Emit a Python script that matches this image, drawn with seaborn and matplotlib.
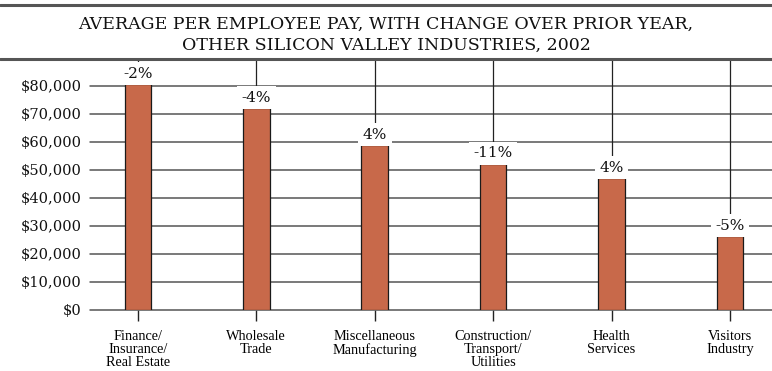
import matplotlib
matplotlib.use("Agg")
import matplotlib.pyplot as plt
import seaborn as sns
import pandas as pd
from matplotlib.lines import Line2D

categories = ["Finance/\nInsurance/\nReal Estate", "Wholesale\nTrade", "Miscellaneous\nManufacturing",
              "Construction/\nTransport/\nUtilities", "Health\nServices", "Visitors\nIndustry"]
pay = [80600, 72000, 58800, 52200, 46900, 26200]
change_labels = ["-2%", "-4%", "4%", "-11%", "4%", "-5%"]
ytick_values = [0, 10000, 20000, 30000, 40000, 50000, 60000, 70000, 80000]
ytick_labels = ["$0", "$10,000", "$20,000", "$30,000", "$40,000", "$50,000", "$60,000", "$70,000", "$80,000"]
title_lines = ["AVERAGE PER EMPLOYEE PAY, WITH CHANGE OVER PRIOR YEAR,",
               "OTHER SILICON VALLEY INDUSTRIES, 2002"]

sns.set_theme(style="white")
plt.rcParams["font.family"] = ["DejaVu Serif"]

df = pd.DataFrame({"category": categories, "pay": pay})

fig = plt.figure(figsize=(7.72, 3.71), dpi=100)
ax = fig.add_axes([90/772, 1 - 309.5/371, 1 - 90/772, (309.5 - 59)/371])

sns.barplot(data=df, x="category", y="pay", color="#C8694A", width=0.225,
            edgecolor="#1a1a1a", linewidth=0.9, saturation=1, ax=ax, zorder=3)

ax.set_xlim(-0.405, 5.355)
ax.set_ylim(0, 89600)
ax.set_yticks(ytick_values)
ax.set_yticklabels(ytick_labels, fontsize=10.5, color="#111111")
ax.set_xlabel("")
ax.set_ylabel("")
for s in ax.spines.values():
    s.set_visible(False)

# grid lines
for v in ytick_values:
    ax.axhline(v, color="#555555", lw=1.1, zorder=1, clip_on=False)
for i in range(len(categories)):
    ax.axvline(i, color="#222222", lw=0.9, zorder=1)

ax.tick_params(axis="y", length=0, pad=6)
ax.tick_params(axis="x", length=8, width=1, color="#222222", pad=7, direction="out", bottom=True)
ax.set_xticks(range(len(categories)))
ax.set_xticklabels(categories, fontsize=10.3, family=["Liberation Serif"], linespacing=0.98,
                   color="#000000")

for i, (v, lab) in enumerate(zip(pay, change_labels)):
    ax.annotate(lab, xy=(i, v), xytext=(0, 2.5), textcoords="offset points",
                ha="center", va="bottom", fontsize=11, color="#111111", zorder=4,
                bbox=dict(boxstyle="square,pad=0.3", fc="white", ec="none"))

# figure rules and title
fig.add_artist(Line2D([0, 1], [1 - 5/371, 1 - 5/371], color="#555555", lw=2.2))
fig.add_artist(Line2D([0, 1], [1 - 59/371, 1 - 59/371], color="#555555", lw=2.2))
fig.text(0.5, 1 - 24/371, title_lines[0], ha="center", va="center", fontsize=12.5,
         color="#111111")
fig.text(0.5, 1 - 45/371, title_lines[1], ha="center", va="center", fontsize=12.5,
         color="#111111")

fig.savefig("out.png", dpi=100)
